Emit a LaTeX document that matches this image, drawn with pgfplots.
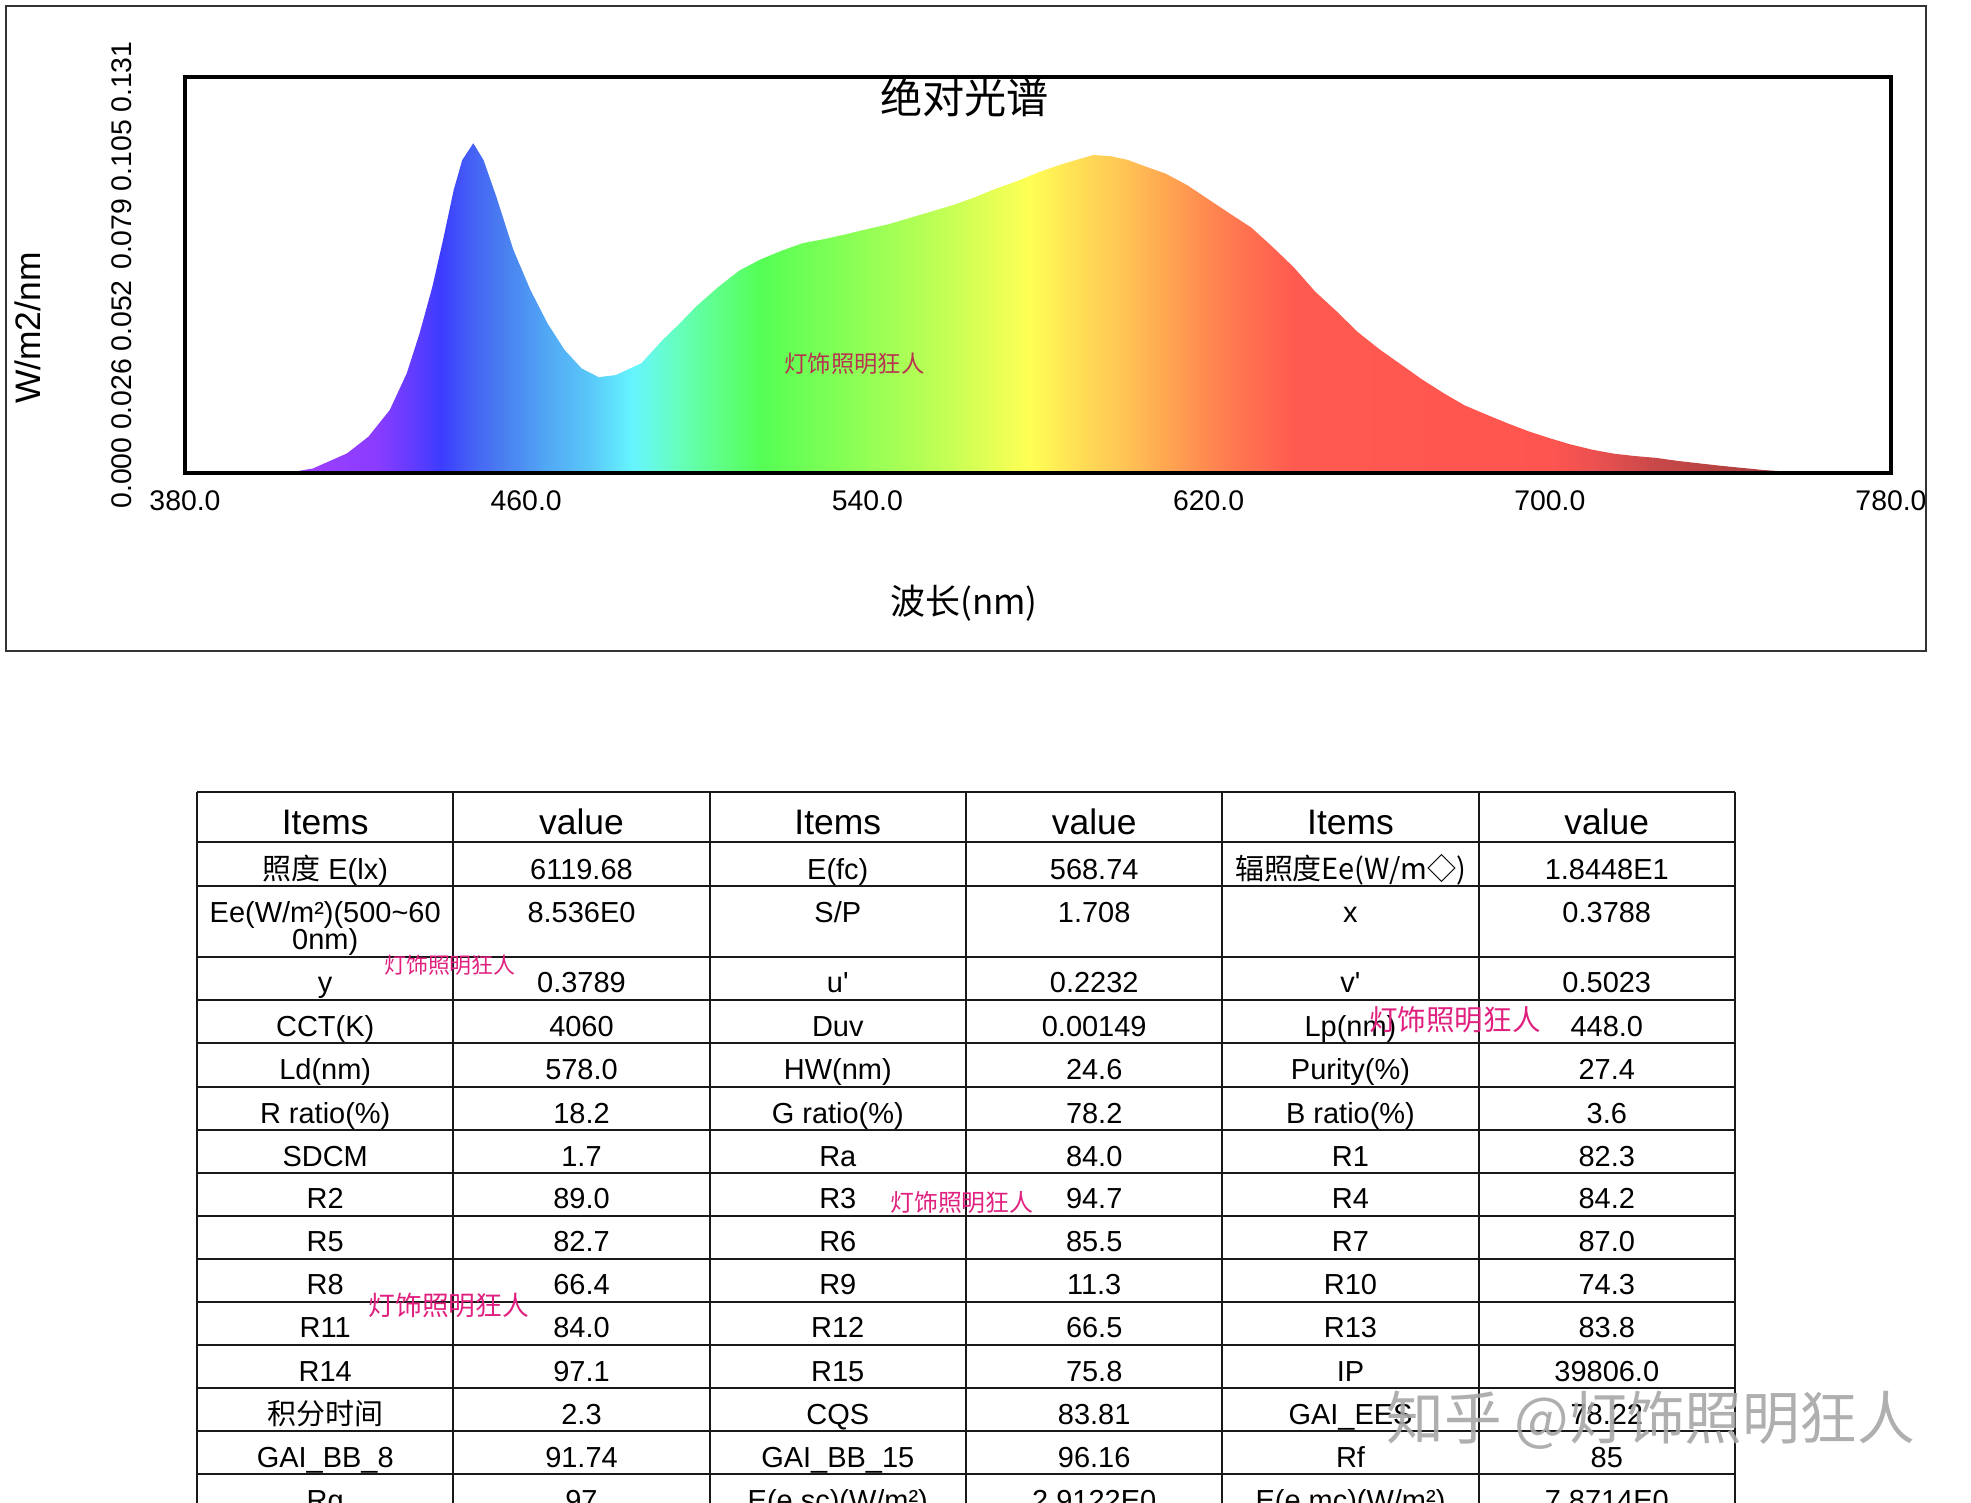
\documentclass[border=0pt]{standalone}
\usepackage{pgfplots}
\usepackage{pgfplotstable}
\pgfplotsset{compat=1.18}
\usepackage{fontspec}
\setmainfont{Liberation Sans}
\newfontfamily\cjk{Noto Sans CJK SC}

\definecolor{c380}{HTML}{B040FF}
\definecolor{c405}{HTML}{A040FF}
\definecolor{c425}{HTML}{8A3CFF}
\definecolor{c435}{HTML}{5A3CFF}
\definecolor{c440}{HTML}{3C3CFF}
\definecolor{c447}{HTML}{4560F5}
\definecolor{c455}{HTML}{4A80F0}
\definecolor{c465}{HTML}{52A8F5}
\definecolor{c475}{HTML}{5AC8F8}
\definecolor{c485}{HTML}{66F5FF}
\definecolor{c495}{HTML}{66FFC0}
\definecolor{c505}{HTML}{5FFF88}
\definecolor{c515}{HTML}{55FF55}
\definecolor{c530}{HTML}{7AFF55}
\definecolor{c545}{HTML}{A0FF55}
\definecolor{c560}{HTML}{C8FF55}
\definecolor{c570}{HTML}{E8FF55}
\definecolor{c578}{HTML}{FFFF55}
\definecolor{c590}{HTML}{FFDD55}
\definecolor{c600}{HTML}{FFC555}
\definecolor{c612}{HTML}{FFA050}
\definecolor{c625}{HTML}{FF7A50}
\definecolor{c640}{HTML}{FF5A50}
\definecolor{c700}{HTML}{FF5550}
\definecolor{c712}{HTML}{E85050}
\definecolor{c725}{HTML}{C84848}
\definecolor{c745}{HTML}{B04040}
\definecolor{c780}{HTML}{A03535}
\definecolor{wmred}{HTML}{B83350}
\definecolor{wmpink}{HTML}{E0207F}

% position = 25 + (lambda-380)/8  (bp)
\pgfdeclarehorizontalshading{spectrum}{100bp}{%
color(0bp)=(c380); color(25bp)=(c380); color(28.125bp)=(c405);
color(30.625bp)=(c425); color(31.875bp)=(c435); color(32.5bp)=(c440);
color(33.375bp)=(c447); color(34.375bp)=(c455); color(35.625bp)=(c465);
color(36.875bp)=(c475); color(38.125bp)=(c485); color(39.375bp)=(c495);
color(40.625bp)=(c505); color(41.875bp)=(c515); color(43.75bp)=(c530);
color(45.625bp)=(c545); color(47.5bp)=(c560); color(48.75bp)=(c570);
color(49.75bp)=(c578); color(51.25bp)=(c590); color(52.5bp)=(c600);
color(54bp)=(c612); color(55.625bp)=(c625); color(57.5bp)=(c640);
color(65bp)=(c700); color(66.5bp)=(c712); color(68.125bp)=(c725);
color(70.625bp)=(c745); color(75bp)=(c780); color(100bp)=(c780)}

\pgfplotstableread{
wl I
380 0
400 0
405 0.0003
410 0.0015
414 0.0040
418 0.0065
423 0.0120
428 0.0208
432 0.0330
435 0.0462
438 0.0616
440.5 0.0771
443 0.0936
445 0.1035
447.6 0.1091
450 0.1035
453 0.0914
457 0.0738
461 0.0605
465 0.0495
469 0.0407
473 0.0346
477 0.0317
481 0.0324
487 0.0363
492 0.0440
496 0.0495
500 0.0553
505 0.0615
510 0.0670
515 0.0707
520 0.0736
525 0.0761
530 0.0774
535 0.0790
540 0.0807
545 0.0823
550 0.0844
555 0.0865
560 0.0886
565 0.0911
570 0.0940
575 0.0965
580 0.0994
585 0.1019
590 0.1040
593 0.1052
597 0.1048
601 0.1036
605 0.1015
610 0.0990
615 0.0952
620 0.0905
625 0.0858
630 0.0812
635 0.0748
640 0.0680
645 0.0600
650 0.0535
655 0.0466
660 0.0410
665 0.0360
670 0.0310
675 0.0265
680 0.0224
685 0.0194
690 0.0165
695 0.0138
700 0.0115
705 0.0094
710 0.0077
715 0.0064
720 0.0056
725 0.0050
730 0.0040
735 0.0032
740 0.0024
745 0.0017
750 0.0010
755 0.0005
760 0.0002
765 0
780 0
}\spec

\newcommand\tf{\fontsize{20.6}{22}\selectfont}
\newcommand\hf{\fontsize{25.2}{27}\selectfont}
\newcommand\cell[3]{\node[anchor=base,font=\tf,inner sep=0pt] at (#1,#2) {#3};}
\newcommand\hcell[2]{\node[anchor=base,font=\hf,inner sep=0pt] at (#1,835) {#2};}

\begin{document}
\begin{tikzpicture}
\useasboundingbox (0,0) rectangle (492.75mm,-375.5mm);

\begin{axis}[
  at={(46.25mm,-118.25mm)}, anchor=south west,
  scale only axis, width=426.5mm, height=99mm,
  xmin=380, xmax=780, ymin=0, ymax=0.131,
  axis on top,
  axis line style={line width=0.85mm, black},
  xtick={380,460,540,620,700,780},
  xticklabels={380.0,460.0,540.0,620.0,700.0,780.0},
  ytick={0,0.026,0.052,0.079,0.105,0.131},
  yticklabels={0.000,0.026,0.052,0.079,0.105,0.131},
  major tick length=0pt,
  tick style={draw=none},
  ticklabel style={font=\fontsize{20.2}{22}\selectfont},
  xticklabel style={anchor=center, yshift=-7mm},
  yticklabel style={xshift=-15.75mm, rotate=90, anchor=center},
  title={\cjk 绝对光谱},
  title style={at={(0.457,0.928)}, anchor=center, font=\fontsize{30}{32}\selectfont},
  xlabel={\cjk 波长(nm)},
  xlabel style={at={(0.4566,-0.328)}, anchor=center, font=\fontsize{24.9}{26}\selectfont},
  ylabel={W/m2/nm},
  ylabel style={at={(-0.092,0.366)}, anchor=center, font=\fontsize{25.2}{27}\selectfont},
]
\addplot[draw=none, shading=spectrum] table[x=wl,y=I]{\spec} \closedcycle;
\node[font=\cjk\fontsize{16.6}{18}\selectfont, text=wmred] at (axis cs:537,0.0361) {灯饰照明狂人};
\end{axis}

\begin{scope}[x=0.25mm, y=-0.25mm]
\draw[line width=0.5mm, black!80] (6,6) rectangle (1926,651);

% table grid
\foreach \yy in {792,842,886,957,1000,1043,1087,1130,1173,1216,1259,1302,1345,1388,1431,1474}
  \draw[line width=0.55mm, black!90] (197,\yy) -- (1735,\yy);
\foreach \xx in {197,453.3,709.7,966,1222.3,1478.7,1735}
  \draw[line width=0.55mm, black!90] (\xx,792) -- (\xx,1530);

% header
\hcell{325.2}{Items}\hcell{581.5}{value}\hcell{837.8}{Items}
\hcell{1094.2}{value}\hcell{1350.5}{Items}\hcell{1606.8}{value}

\cell{325.2}{880}{{\cjk 照度} E(lx)}\cell{581.5}{880}{6119.68}\cell{837.8}{880}{E(fc)}
\cell{1094.2}{880}{568.74}\cell{1350.5}{880}{\cjk 辐照度Ee(W/m◇)}\cell{1606.8}{880}{1.8448E1}

\cell{325.2}{923}{Ee(W/m²)(500\textasciitilde 60}\cell{325.2}{950}{0nm)}
\cell{581.5}{923}{8.536E0}\cell{837.8}{923}{S/P}
\cell{1094.2}{923}{1.708}\cell{1350.5}{923}{x}\cell{1606.8}{923}{0.3788}

\cell{325.2}{993}{y}\cell{581.5}{993}{0.3789}\cell{837.8}{993}{u\textquotesingle}
\cell{1094.2}{993}{0.2232}\cell{1350.5}{993}{v\textquotesingle}\cell{1606.8}{993}{0.5023}

\cell{325.2}{1037}{CCT(K)}\cell{581.5}{1037}{4060}\cell{837.8}{1037}{Duv}
\cell{1094.2}{1037}{0.00149}\cell{1350.5}{1037}{Lp(nm)}\cell{1606.8}{1037}{448.0}

\cell{325.2}{1080}{Ld(nm)}\cell{581.5}{1080}{578.0}\cell{837.8}{1080}{HW(nm)}
\cell{1094.2}{1080}{24.6}\cell{1350.5}{1080}{Purity(\%)}\cell{1606.8}{1080}{27.4}

\cell{325.2}{1123.5}{R ratio(\%)}\cell{581.5}{1123.5}{18.2}\cell{837.8}{1123.5}{G ratio(\%)}
\cell{1094.2}{1123.5}{78.2}\cell{1350.5}{1123.5}{B ratio(\%)}\cell{1606.8}{1123.5}{3.6}

\cell{325.2}{1166.5}{SDCM}\cell{581.5}{1166.5}{1.7}\cell{837.8}{1166.5}{Ra}
\cell{1094.2}{1166.5}{84.0}\cell{1350.5}{1166.5}{R1}\cell{1606.8}{1166.5}{82.3}

\cell{325.2}{1209}{R2}\cell{581.5}{1209}{89.0}\cell{837.8}{1209}{R3}
\cell{1094.2}{1209}{94.7}\cell{1350.5}{1209}{R4}\cell{1606.8}{1209}{84.2}

\cell{325.2}{1252}{R5}\cell{581.5}{1252}{82.7}\cell{837.8}{1252}{R6}
\cell{1094.2}{1252}{85.5}\cell{1350.5}{1252}{R7}\cell{1606.8}{1252}{87.0}

\cell{325.2}{1295}{R8}\cell{581.5}{1295}{66.4}\cell{837.8}{1295}{R9}
\cell{1094.2}{1295}{11.3}\cell{1350.5}{1295}{R10}\cell{1606.8}{1295}{74.3}

\cell{325.2}{1338}{R11}\cell{581.5}{1338}{84.0}\cell{837.8}{1338}{R12}
\cell{1094.2}{1338}{66.5}\cell{1350.5}{1338}{R13}\cell{1606.8}{1338}{83.8}

\cell{325.2}{1381.5}{R14}\cell{581.5}{1381.5}{97.1}\cell{837.8}{1381.5}{R15}
\cell{1094.2}{1381.5}{75.8}\cell{1350.5}{1381.5}{IP}\cell{1606.8}{1381.5}{39806.0}

\cell{325.2}{1424.5}{\cjk 积分时间}\cell{581.5}{1424.5}{2.3}\cell{837.8}{1424.5}{CQS}
\cell{1094.2}{1424.5}{83.81}\cell{1350.5}{1424.5}{GAI\_EES}\cell{1606.8}{1424.5}{78.22}

\cell{325.2}{1467.5}{GAI\_BB\_8}\cell{581.5}{1467.5}{91.74}\cell{837.8}{1467.5}{GAI\_BB\_15}
\cell{1094.2}{1467.5}{96.16}\cell{1350.5}{1467.5}{Rf}\cell{1606.8}{1467.5}{85}

\cell{325.2}{1510.5}{Rg}\cell{581.5}{1510.5}{97}\cell{837.8}{1510.5}{E(e,sc)(W/m²)}
\cell{1094.2}{1510.5}{2.9122E0}\cell{1350.5}{1510.5}{E(e,mc)(W/m²)}\cell{1606.8}{1510.5}{7.8714E0}

% watermarks
\node[font=\cjk\fontsize{15.6}{17}\selectfont, text=wmpink] at (450,965) {灯饰照明狂人};
\node[font=\cjk\fontsize{20.3}{22}\selectfont, text=wmpink] at (1455,1020) {灯饰照明狂人};
\node[font=\cjk\fontsize{17}{19}\selectfont, text=wmpink] at (962,1203) {灯饰照明狂人};
\node[font=\cjk\fontsize{19}{21}\selectfont, text=wmpink] at (449,1305) {灯饰照明狂人};
\node[font=\cjk\fontsize{41}{44}\selectfont, text=black!35, opacity=0.9] at (1651,1420) {知乎 @灯饰照明狂人};
\end{scope}
\end{tikzpicture}
\end{document}
